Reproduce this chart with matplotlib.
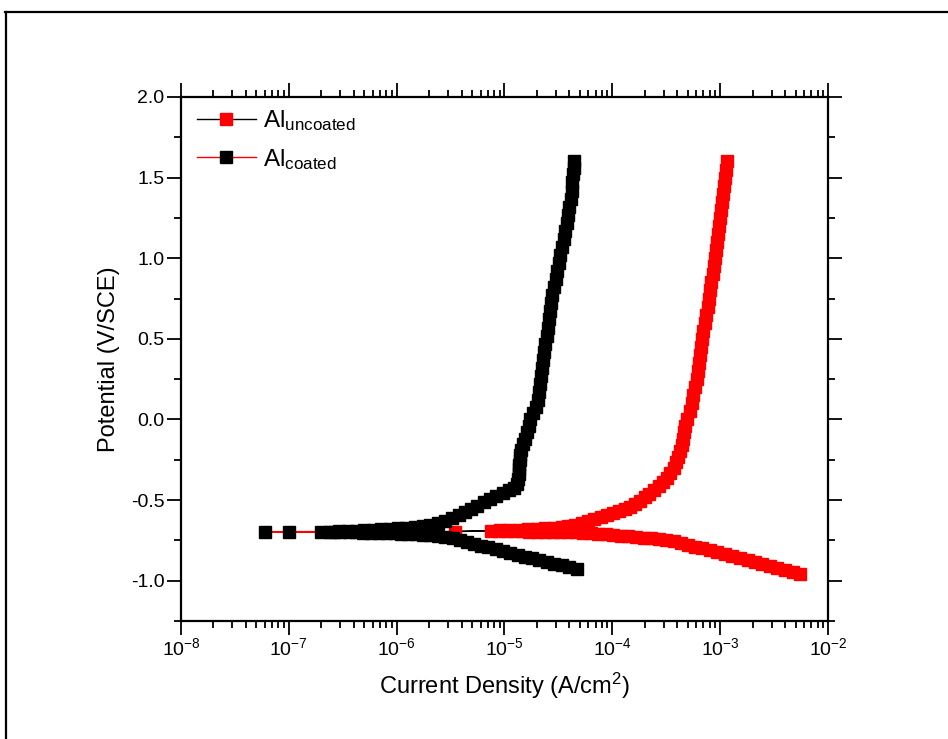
import matplotlib
matplotlib.use("Agg")
import matplotlib.pyplot as plt
from matplotlib.lines import Line2D
from matplotlib.ticker import MultipleLocator, FormatStrFormatter, LogLocator, NullFormatter

plt.rcParams['font.family'] = ['Liberation Sans', 'DejaVu Sans']
plt.rcParams['mathtext.fontset'] = 'custom'
plt.rcParams['mathtext.rm'] = 'Liberation Sans'
plt.rcParams['mathtext.it'] = 'Liberation Sans'
plt.rcParams['mathtext.bf'] = 'Liberation Sans:bold'
plt.rcParams['axes.unicode_minus'] = False

# Al uncoated: cathodic branch -> Ecorr -> anodic branch (current A/cm2, potential V/SCE)
uncoated_I = [5.5e-3, 4.7e-3, 4.0e-3, 3.4e-3, 2.9e-3, 2.45e-3, 2.1e-3, 1.8e-3, 1.52e-3, 1.3e-3,
              1.1e-3, 9.4e-4, 8.0e-4, 6.8e-4, 5.8e-4, 5.0e-4, 4.3e-4, 3.7e-4, 3.15e-4, 2.7e-4,
              2.3e-4, 1.95e-4, 1.65e-4, 1.4e-4, 1.2e-4, 1.02e-4, 8.7e-5, 7.4e-5, 6.3e-5, 5.4e-5,
              4.6e-5, 3.9e-5, 3.3e-5, 2.8e-5, 2.4e-5, 2.0e-5, 1.7e-5, 1.45e-5, 1.23e-5, 1.05e-5,
              8.9e-6, 7.5e-6, 3.5e-6,
              9.0e-6, 1.1e-5, 1.35e-5, 1.65e-5, 2.0e-5, 2.4e-5, 2.9e-5, 3.4e-5, 3.9e-5, 4.5e-5,
              5.2e-5, 5.9e-5, 6.8e-5, 7.8e-5, 8.9e-5, 1.02e-4, 1.15e-4, 1.3e-4, 1.46e-4, 1.63e-4,
              1.8e-4, 2.0e-4, 2.2e-4, 2.45e-4, 2.7e-4, 2.95e-4, 3.2e-4, 3.45e-4, 3.7e-4, 3.9e-4,
              4.1e-4, 4.25e-4, 4.4e-4, 4.5e-4, 4.6e-4, 4.75e-4, 4.95e-4, 5.2e-4, 5.45e-4, 5.65e-4,
              5.85e-4, 6.05e-4, 6.2e-4, 6.35e-4, 6.5e-4, 6.65e-4, 6.8e-4, 7.0e-4, 7.2e-4, 7.45e-4,
              7.7e-4, 7.9e-4, 8.1e-4, 8.3e-4, 8.5e-4, 8.7e-4, 8.9e-4, 9.15e-4, 9.4e-4, 9.6e-4,
              9.8e-4, 1.0e-3, 1.02e-3, 1.04e-3, 1.06e-3, 1.08e-3, 1.1e-3, 1.13e-3, 1.16e-3]
uncoated_E = [-0.957, -0.946, -0.934, -0.922, -0.910, -0.897, -0.885, -0.873, -0.860, -0.849,
              -0.836, -0.824, -0.812, -0.800, -0.788, -0.776, -0.765, -0.756, -0.749, -0.743,
              -0.738, -0.733, -0.729, -0.725, -0.721, -0.717, -0.713, -0.709, -0.705, -0.702,
              -0.700, -0.698, -0.697, -0.696, -0.695, -0.695, -0.695, -0.694, -0.694, -0.693,
              -0.693, -0.692, -0.695,
              -0.688, -0.686, -0.684, -0.682, -0.679, -0.676, -0.672, -0.667, -0.661, -0.653,
              -0.643, -0.632, -0.620, -0.607, -0.595, -0.583, -0.570, -0.556, -0.540, -0.523,
              -0.503, -0.483, -0.462, -0.440, -0.415, -0.388, -0.360, -0.330, -0.298, -0.265,
              -0.230, -0.195, -0.160, -0.120, -0.080, -0.040, 0.000, 0.050, 0.100, 0.150,
              0.200, 0.250, 0.300, 0.350, 0.400, 0.450, 0.500, 0.550, 0.600, 0.650,
              0.700, 0.750, 0.800, 0.850, 0.900, 0.950, 1.000, 1.050, 1.100, 1.150,
              1.200, 1.250, 1.300, 1.350, 1.400, 1.450, 1.500, 1.550, 1.600]

# Al coated
coated_I = [4.7e-5, 4.0e-5, 3.4e-5, 2.9e-5, 2.5e-5, 2.1e-5, 1.8e-5, 1.55e-5, 1.32e-5, 1.13e-5,
            9.7e-6, 8.3e-6, 7.1e-6, 6.1e-6, 5.2e-6, 4.5e-6, 3.9e-6, 3.3e-6, 2.8e-6, 2.4e-6,
            2.05e-6, 1.75e-6, 1.5e-6, 1.28e-6, 1.1e-6, 9.4e-7, 8.0e-7, 6.8e-7, 5.8e-7, 4.9e-7,
            4.2e-7, 3.6e-7, 3.0e-7, 2.6e-7, 2.0e-7, 1.0e-7, 6.0e-8,
            2.4e-7, 2.9e-7, 3.5e-7, 4.2e-7, 5.0e-7, 6.0e-7, 7.2e-7, 8.6e-7, 1.03e-6, 1.23e-6,
            1.47e-6, 1.75e-6, 2.05e-6, 2.4e-6, 2.8e-6, 3.25e-6, 3.75e-6, 4.3e-6, 4.9e-6, 5.6e-6,
            6.4e-6, 7.3e-6, 8.4e-6, 9.7e-6, 1.1e-5, 1.22e-5, 1.3e-5, 1.34e-5, 1.36e-5, 1.37e-5,
            1.37e-5, 1.38e-5, 1.39e-5, 1.43e-5, 1.5e-5, 1.56e-5, 1.62e-5, 1.68e-5, 1.74e-5, 1.85e-5,
            1.97e-5, 2.03e-5, 2.08e-5, 2.13e-5, 2.18e-5, 2.22e-5, 2.27e-5, 2.33e-5, 2.4e-5, 2.46e-5,
            2.52e-5, 2.58e-5, 2.63e-5, 2.68e-5, 2.78e-5, 2.88e-5, 2.98e-5, 3.08e-5, 3.18e-5, 3.3e-5,
            3.42e-5, 3.54e-5, 3.66e-5, 3.78e-5, 3.9e-5, 4.0e-5, 4.1e-5, 4.2e-5, 4.27e-5, 4.33e-5,
            4.38e-5, 4.42e-5]
coated_E = [-0.925, -0.915, -0.905, -0.895, -0.884, -0.873, -0.862, -0.851, -0.840, -0.829,
            -0.818, -0.806, -0.794, -0.782, -0.770, -0.758, -0.747, -0.738, -0.730, -0.724,
            -0.719, -0.715, -0.712, -0.710, -0.708, -0.706, -0.705, -0.704, -0.703, -0.702,
            -0.701, -0.700, -0.700, -0.700, -0.700, -0.700, -0.696,
            -0.695, -0.693, -0.691, -0.689, -0.687, -0.685, -0.682, -0.679, -0.676, -0.672,
            -0.667, -0.660, -0.652, -0.642, -0.628, -0.612, -0.594, -0.575, -0.555, -0.535,
            -0.515, -0.495, -0.475, -0.455, -0.438, -0.422, -0.400, -0.370, -0.340, -0.310,
            -0.280, -0.250, -0.220, -0.190, -0.155, -0.120, -0.080, -0.040, 0.000, 0.040,
            0.080, 0.120, 0.170, 0.220, 0.270, 0.320, 0.370, 0.420, 0.470, 0.520,
            0.570, 0.620, 0.670, 0.720, 0.770, 0.820, 0.870, 0.920, 0.970, 1.020,
            1.070, 1.120, 1.170, 1.220, 1.270, 1.320, 1.370, 1.420, 1.470, 1.520,
            1.560, 1.600]

fig = plt.figure(figsize=(9.48, 7.39), dpi=100)
ax = fig.add_axes([181/948, 1 - 621/739, 647/948, 524/739])

ax.plot(uncoated_I, uncoated_E, color='black', linewidth=1, marker='s', markersize=9,
        markerfacecolor='red', markeredgecolor='red', label=r'Al$_{\mathrm{uncoated}}$')
ax.plot(coated_I, coated_E, color='red', linewidth=1, marker='s', markersize=9,
        markerfacecolor='black', markeredgecolor='black', label=r'Al$_{\mathrm{coated}}$')

ax.set_xscale('log')
ax.set_xlim(1e-8, 1e-2)
ax.set_ylim(-1.25, 2.0)
ax.xaxis.set_major_locator(LogLocator(base=10, numticks=10))
ax.xaxis.set_minor_locator(LogLocator(base=10, subs=range(2, 10), numticks=20))
ax.xaxis.set_minor_formatter(NullFormatter())
ax.yaxis.set_major_locator(MultipleLocator(0.5))
ax.yaxis.set_minor_locator(MultipleLocator(0.25))
ax.yaxis.set_major_formatter(FormatStrFormatter('%.1f'))

ax.tick_params(which='both', direction='out', top=True, right=True, width=1.3)
ax.tick_params(which='major', length=10, labelsize=14, pad=2)
ax.tick_params(which='minor', length=5)
for s in ax.spines.values():
    s.set_linewidth(1.6)

ax.set_xlabel(r'Current Density (A/cm$^{2}$)', fontsize=17, labelpad=8)
ax.set_ylabel('Potential (V/SCE)', fontsize=17, labelpad=8)

ax.legend(loc='upper left', bbox_to_anchor=(0.025, 0.978), frameon=False, fontsize=17.5,
          handlelength=2.4, handletextpad=0.3, borderpad=0, borderaxespad=0,
          labelspacing=0.55, numpoints=1)

# outer frame of the original figure
fig.add_artist(Line2D([6/948, 6/948], [0, 1 - 12/739], transform=fig.transFigure, color='black', linewidth=1.6))
fig.add_artist(Line2D([5/948, 1], [1 - 12/739, 1 - 12/739], transform=fig.transFigure, color='black', linewidth=1.6))

fig.savefig('out.png', dpi=100)
